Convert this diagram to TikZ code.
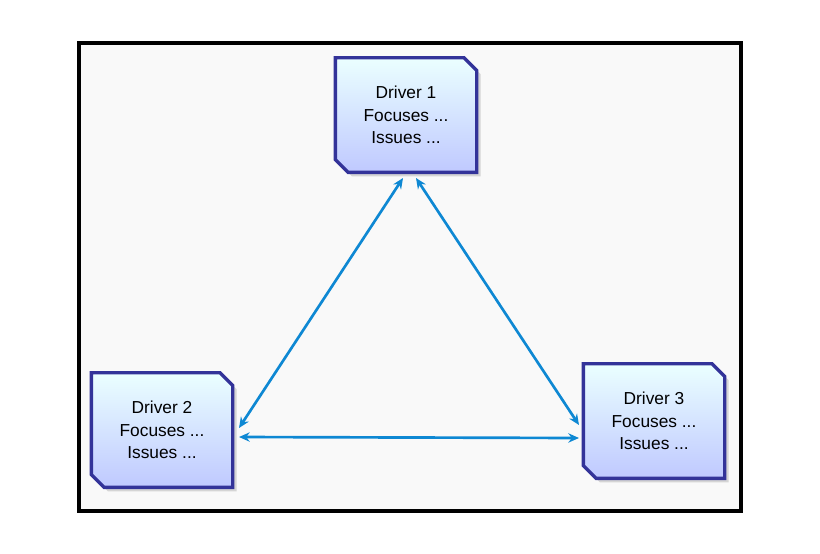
\documentclass[tikz,border=0pt]{standalone}
\usepackage{fontspec}
\setmainfont{Liberation Sans}
\usetikzlibrary{shapes.misc,arrows.meta,shadows}
\begin{document}
\begin{tikzpicture}[x=0.75pt,y=-0.75pt,
 drv/.style={chamfered rectangle,chamfered rectangle corners={north east,south west},chamfered rectangle xsep=6pt,
   draw=blue!50!black!80,line width=2.5pt,top color=white!60!cyan!20,bottom color=cyan!15!blue!25,
   minimum width=106pt,minimum height=86pt,align=center,font=\fontsize{13}{17}\selectfont,
   drop shadow={fill=gray!60,shadow xshift=3pt,shadow yshift=-3pt}},
 con/.style={draw=cyan!70!blue,line width=2pt,{Stealth[length=8pt,width=7pt]}-{Stealth[length=8pt,width=7pt]}}]
\useasboundingbox (0,0) rectangle (820,553);
\fill[white] (0,0) rectangle (820,553);
\draw[line width=2.5pt,fill=gray!5] (79,43) rectangle (741,511);
\node[drv] (d1) at (406,115) {Driver 1\\Focuses ...\\Issues ...};
\node[drv] (d2) at (162,430) {Driver 2\\Focuses ...\\Issues ...};
\node[drv] (d3) at (654,421) {Driver 3\\Focuses ...\\Issues ...};
\coordinate (a1) at (403,178);\coordinate (a2) at (239,428);
\coordinate (b1) at (416,178);\coordinate (b2) at (579,425);
\coordinate (c1) at (239,437);\coordinate (c2) at (579,438);
\draw[con] (a1) -- (a2);
\draw[con] (b1) -- (b2);
\draw[con] (c1) -- (c2);
\end{tikzpicture}
\end{document}
